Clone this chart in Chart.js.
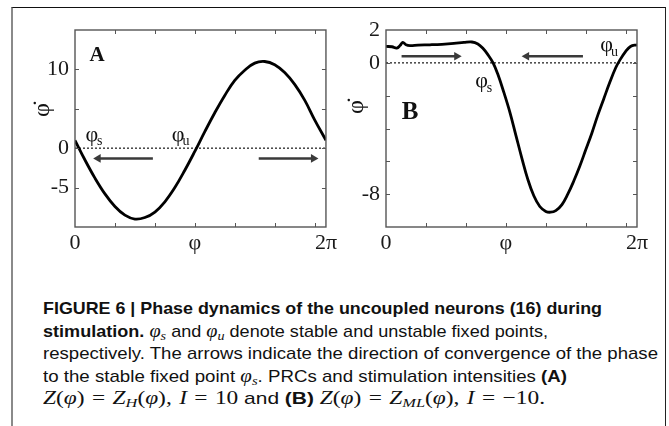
<!DOCTYPE html>
<html>
<head>
<meta charset="utf-8">
<script src="https://cdn.jsdelivr.net/npm/chart.js@4.4.1/dist/chart.umd.min.js"></script>
<style>
  body { margin: 0; background: #fff; width: 669px; height: 426px; overflow: hidden; position: relative; }
  #box { position: absolute; left: 11px; top: 7px; width: 652px; height: 440px;
         border-left: 2px solid #8a8a8a; border-top: 1px solid #111; border-right: 1px solid #222; }
  #ca { position: absolute; left: 0; top: 0; }
  #cb { position: absolute; left: 340px; top: 0; }
  .cap { position: absolute; left: 43px; font-family: "Liberation Sans", Arial, sans-serif; font-size: 17px;
         line-height: 22px; white-space: nowrap; color: #111; transform-origin: 0 0; }
  .m { font-family: "Liberation Serif", "DejaVu Serif", serif; font-size: 19px; }
  .m .eq { margin: 0 6px; }
  .m .cm { margin-right: 6px; }
  .cap sub { font-size: 70%; vertical-align: -3px; line-height: 0; }
</style>
</head>
<body>
<div id="box"></div>
<canvas id="ca" width="340" height="270"></canvas>
<canvas id="cb" width="329" height="270"></canvas>

<div class="cap" id="l1" style="top:298px"><b>FIGURE 6 | Phase dynamics of the uncoupled neurons (16) during</b></div>
<div class="cap" id="l2" style="top:320px"><b>stimulation.</b> <i class="m">φ<sub>s</sub></i> and <i class="m">φ<sub>u</sub></i> denote stable and unstable fixed points,</div>
<div class="cap" id="l3" style="top:343px">respectively. The arrows indicate the direction of convergence of the phase</div>
<div class="cap" id="l4" style="top:365px">to the stable fixed point <i class="m">φ<sub>s</sub></i>. PRCs and stimulation intensities <b>(A)</b></div>
<div class="cap" id="l5" style="top:387px"><span class="m"><i>Z</i>(<i>φ</i>)<span class="eq">=</span><i>Z<sub>H</sub></i>(<i>φ</i>),<span class="cm"></span><i>I</i><span class="eq">=</span>10</span> and <b>(B)</b> <span class="m"><i>Z</i>(<i>φ</i>)<span class="eq">=</span><i>Z<sub>ML</sub></i>(<i>φ</i>),<span class="cm"></span><i>I</i><span class="eq">=</span>−10.</span></div>

<script>
// Panel A: phase velocity over phase
var phiA  = [0, 0.25, 0.5, 0.75, 1.0, 1.25, 1.5, 1.75, 2.0, 2.25, 2.5, 2.75, 3.0, 3.25,
             3.5, 3.75, 4.0, 4.25, 4.5, 4.75, 5.0, 5.25, 5.5, 5.75, 6.0, 6.283];
var dphiA = [1.0, -1.5, -3.8, -5.8, -7.4, -8.5, -9.0, -8.8, -8.1, -6.8, -5.0, -2.8, -0.4, 2.1,
             4.5, 6.7, 8.6, 9.9, 10.8, 11.0, 10.6, 9.6, 8.1, 6.1, 3.6, 1.0];

// Panel B
var phiB  = [0, 0.15, 0.27, 0.35, 0.42, 0.5, 0.6, 0.8, 1.1, 1.4, 1.7, 1.95, 2.15, 2.3, 2.42,
             2.55, 2.68, 2.8, 2.95, 3.1, 3.25, 3.4, 3.55, 3.7, 3.85, 4.0, 4.12, 4.25, 4.4,
             4.55, 4.7, 4.85, 5.0, 5.15, 5.3, 5.45, 5.6, 5.75, 5.85, 6.0, 6.12, 6.283];
var dphiB = [1.0, 0.98, 0.9, 1.05, 1.25, 1.1, 1.05, 1.08, 1.1, 1.13, 1.18, 1.24, 1.27, 1.15, 0.9,
             0.5, 0.0, -0.7, -1.8, -3.0, -4.4, -5.8, -7.1, -8.1, -8.75, -9.05, -9.1, -9.0, -8.65,
             -8.0, -7.2, -6.3, -5.3, -4.3, -3.2, -2.2, -1.2, -0.3, 0.15, 0.7, 1.0, 1.1];

// axis ticks
var xTicks  = [0, 1, 2, 3, 4, 5, 6, 6.283];
var xLabels = { 0: '0', 3: 'φ', 6.283: '2π' };
var yTicksA  = [-10, -5, 0, 5, 10, 15];
var yLabelsA = { 10: '10', 0: '0', '-5': '-5' };
var yTicksB  = [-10, -8, -6, -4, -2, 0, 2];
var yLabelsB = { 2: '2', 0: '0', '-8': '-8' };

// arrows: [from, to(head), level]
var arrowsA = [[1.95, 0.58, -1.3], [4.6, 5.97, -1.3]];
var arrowsB = [[0.39, 1.77, 0.4], [4.93, 3.52, 0.4]];

function pts(xs, ys) {
  return xs.map(function (x, i) { return { x: x, y: ys[i] }; });
}

// frame, inner ticks, labels
var framePlugin = {
  id: 'frame',
  afterDatasetsDraw: function (chart, args, opts) {
    var ctx = chart.ctx, a = chart.chartArea, xs = chart.scales.x, ys = chart.scales.y;
    ctx.save();
    ctx.strokeStyle = '#555';
    ctx.lineWidth = 1;
    ctx.beginPath();
    xs.ticks.forEach(function (t) {
      if (t.value <= xs.min || t.value >= xs.max) return;
      var px = Math.round(xs.getPixelForValue(t.value)) + 0.5;
      ctx.moveTo(px, a.bottom); ctx.lineTo(px, a.bottom - 4);
      ctx.moveTo(px, a.top); ctx.lineTo(px, a.top + 4);
    });
    ys.ticks.forEach(function (t) {
      if (t.value <= ys.min || t.value >= ys.max) return;
      var py = Math.round(ys.getPixelForValue(t.value)) + 0.5;
      ctx.moveTo(a.left, py); ctx.lineTo(a.left + 4, py);
      ctx.moveTo(a.right, py); ctx.lineTo(a.right - 4, py);
    });
    ctx.stroke();
    ctx.lineWidth = 1.4;
    ctx.strokeRect(a.left, a.top, a.right - a.left, a.bottom - a.top);

    ctx.fillStyle = '#111';
    ctx.textAlign = 'center';
    ctx.textBaseline = 'middle';
    opts.texts.forEach(function (t) {
      var px = xs.getPixelForValue(t.x), py = ys.getPixelForValue(t.y);
      ctx.font = t.font;
      ctx.fillText(t.text, px, py);
      if (t.sub) {
        ctx.font = '14px "Liberation Serif", serif';
        ctx.fillText(t.sub, px + 8, py + 7);
      }
    });

    // y axis title, rotated
    ctx.translate(a.left - opts.titleDx, a.top + opts.titleDy);
    ctx.rotate(-Math.PI / 2);
    ctx.font = '24px "Liberation Serif", "DejaVu Serif", serif';
    ctx.fillText('φ\u0307', 0, 0);
    ctx.restore();
  }
};

function makePanel(id, xs, ys, yMin, yMax, yTicks, yLabels, arrows, texts, yWidth, padRight, titleDx, titleDy) {
  var datasets = [
    { data: pts(xs, ys), borderColor: '#000', borderWidth: 2.8, pointRadius: 0, tension: 0.4 },
    { data: [{ x: 0, y: 0 }, { x: 6.283, y: 0 }], borderColor: '#444', borderWidth: 1.5,
      borderDash: [2, 2], pointRadius: 0 }
  ];
  arrows.forEach(function (ar) {
    datasets.push({
      data: [{ x: ar[0], y: ar[2] }, { x: ar[1], y: ar[2] }],
      borderColor: '#3a3a3a', backgroundColor: '#3a3a3a', borderWidth: 2.4,
      pointRadius: [0, 5], pointStyle: 'triangle', pointBorderWidth: 0,
      pointRotation: ar[1] > ar[0] ? 90 : -90
    });
  });

  return new Chart(document.getElementById(id), {
    type: 'line',
    data: { datasets: datasets },
    plugins: [framePlugin],
    options: {
      responsive: false,
      animation: false,
      devicePixelRatio: 1,
      layout: { padding: { left: 0, top: 30, right: padRight, bottom: 0 } },
      plugins: {
        legend: { display: false },
        tooltip: { enabled: false },
        frame: { texts: texts, titleDx: titleDx, titleDy: titleDy }
      },
      scales: {
        x: {
          type: 'linear', min: 0, max: 6.283,
          afterBuildTicks: function (s) { s.ticks = xTicks.map(function (v) { return { value: v }; }); },
          afterFit: function (s) { s.height = 43; },
          grid: { display: false, drawTicks: false },
          border: { display: false },
          ticks: {
            autoSkip: false, maxRotation: 0, padding: 3, color: '#1a1a1a',
            font: { family: '"Liberation Serif", serif', size: 22 },
            callback: function (v) { return xLabels[v] !== undefined ? xLabels[v] : ''; }
          }
        },
        y: {
          min: yMin, max: yMax,
          afterBuildTicks: function (s) { s.ticks = yTicks.map(function (v) { return { value: v }; }); },
          afterFit: function (s) { s.width = yWidth; },
          grid: { display: false, drawTicks: false },
          border: { display: false },
          ticks: {
            padding: 6, color: '#1a1a1a',
            font: { family: '"Liberation Serif", serif', size: 22 },
            callback: function (v) { return yLabels[v] !== undefined ? yLabels[v] : ''; }
          }
        }
      }
    }
  });
}

var chartA = makePanel('ca', phiA, dphiA, -10, 15, yTicksA, yLabelsA, arrowsA, [
  { text: 'A', x: 0.55, y: 11.7, font: 'bold 21px "Liberation Serif", serif' },
  { text: 'φ', x: 0.42, y: 1.7, font: '22px "Liberation Serif", serif' , sub: 's' },
  { text: 'φ', x: 2.58, y: 1.7, font: '22px "Liberation Serif", serif' , sub: 'u' }
], 75, 13, 32, 80);

var chartB = makePanel('cb', phiB, dphiB, -10, 2, yTicksB, yLabelsB, arrowsB, [
  { text: 'B', x: 0.6, y: -3.0, font: 'bold 25px "Liberation Serif", serif' },
  { text: 'φ', x: 2.39, y: -1.15, font: '22px "Liberation Serif", serif', sub: 's' },
  { text: 'φ', x: 5.52, y: 1.08, font: '22px "Liberation Serif", serif', sub: 'u' }
], 46, 32, 29, 77);

// squeeze caption lines to the widths in the figure
var capWidths = { l1: 559, l2: 505, l3: 615, l4: 524, l5: 502 };
Object.keys(capWidths).forEach(function (id) {
  var el = document.getElementById(id);
  var w = el.getBoundingClientRect().width;
  el.style.transform = 'scaleX(' + (capWidths[id] / w) + ')';
});
</script>
</body>
</html>
